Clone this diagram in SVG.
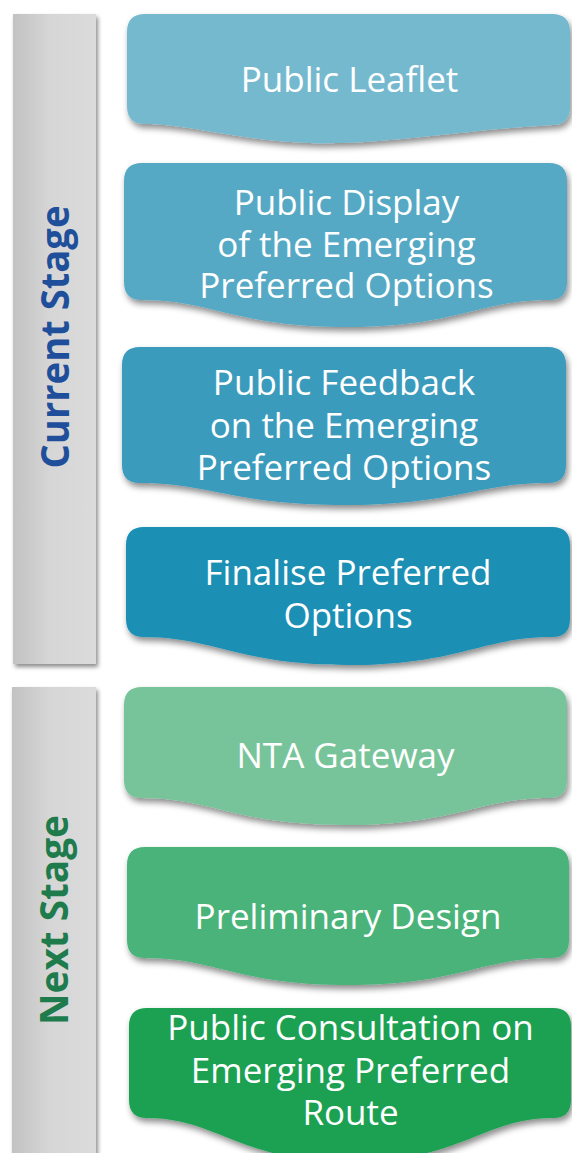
<svg xmlns="http://www.w3.org/2000/svg" width="572" height="1153" viewBox="0 0 572 1153">
<defs>
<linearGradient id="barGrad" x1="0" y1="0" x2="1" y2="0">
<stop offset="0" stop-color="#c2c2c2"/>
<stop offset="0.45" stop-color="#d6d6d6"/>
<stop offset="1" stop-color="#dbdbdb"/>
</linearGradient>
<filter id="shadow" x="-10%" y="-10%" width="125%" height="130%">
<feDropShadow dx="2" dy="4" stdDeviation="3" flood-color="#000" flood-opacity="0.45"/>
</filter>
<filter id="barShadow" x="-20%" y="-5%" width="140%" height="115%">
<feDropShadow dx="2" dy="3" stdDeviation="2" flood-color="#000" flood-opacity="0.45"/>
</filter>
</defs>
<style>
.bar{fill:url(#barGrad);filter:url(#barShadow);}
.stage{font-family:"Open Sans","Liberation Sans",sans-serif;font-weight:bold;font-size:40px;text-anchor:middle;}
.node{filter:url(#shadow);}
.lbl{font-family:"Open Sans","Liberation Sans",sans-serif;font-size:35px;fill:#ffffff;text-anchor:middle;}
</style>
<rect width="572" height="1153" fill="#ffffff"/>
<g id="stage-current">
<rect class="bar" x="13" y="14" width="83" height="650"/>
<text class="stage" fill="#1f4f9b" transform="translate(69,337) rotate(-90)" textLength="263" lengthAdjust="spacingAndGlyphs">Current Stage</text>
</g>
<g id="stage-next">
<rect class="bar" x="12" y="687" width="84" height="490"/>
<text class="stage" fill="#1e7b4c" transform="translate(68,920) rotate(-90)" textLength="210" lengthAdjust="spacingAndGlyphs">Next Stage</text>
</g>
<g id="connectors"></g>
<g id="node-leaflet">
<path class="node" fill="#75b9cf" d="M145,14 H552 Q570,14 570,32 V107 Q570,125 552,125 C460,130 390,145 310,143 C240,141 190,124 145,124 Q127,124 127,106 V32 Q127,14 145,14 Z"/>
<text class="lbl" x="349.5" y="92">Public Leaflet</text>
</g>
<g id="node-display">
<path class="node" fill="#57a9c5" d="M142,163 H549 Q567,163 567,181 V282 Q567,300 549,300 C479,300 456,327 346,327 C236,327 212,300 142,300 Q124,300 124,282 V181 Q124,163 142,163 Z"/>
<text class="lbl"><tspan x="346.5" y="215">Public Display</tspan><tspan x="346.5" y="256.5">of the Emerging</tspan><tspan x="346.5" y="298">Preferred Options</tspan></text>
</g>
<g id="node-feedback">
<path class="node" fill="#3a9bbd" d="M140,347 H548 Q566,347 566,365 V465 Q566,483 548,483 C478,483 454,505 344,505 C234,505 210,483 140,483 Q122,483 122,465 V365 Q122,347 140,347 Z"/>
<text class="lbl"><tspan x="344" y="395">Public Feedback</tspan><tspan x="344" y="437.5">on the Emerging</tspan><tspan x="344" y="480">Preferred Options</tspan></text>
</g>
<g id="node-finalise">
<path class="node" fill="#1a8fb5" d="M144,527 H552 Q570,527 570,545 V619 Q570,637 552,637 C482,637 458,665 348,665 C238,665 214,637 144,637 Q126,637 126,619 V545 Q126,527 144,527 Z"/>
<text class="lbl"><tspan x="348" y="585">Finalise Preferred</tspan><tspan x="348" y="628">Options</tspan></text>
</g>
<g id="node-nta">
<path class="node" fill="#78c49a" d="M142,687 H549 Q567,687 567,705 V780 Q567,798 549,798 C479,798 455,825 345,825 C235,825 212,798 142,798 Q124,798 124,780 V705 Q124,687 142,687 Z"/>
<text class="lbl" x="345.5" y="768">NTA Gateway</text>
</g>
<g id="node-preliminary">
<path class="node" fill="#4ab37a" d="M145,847 H551 Q569,847 569,865 V940 Q569,958 551,958 C481,958 458,985 348,985 C238,985 215,958 145,958 Q127,958 127,940 V865 Q127,847 145,847 Z"/>
<text class="lbl" x="348" y="929">Preliminary Design</text>
</g>
<g id="node-consultation">
<path class="node" fill="#1ba152" d="M147,1008 H553 Q571,1008 571,1026 V1100 Q571,1118 553,1118 C483,1118 460,1162 350,1162 C240,1162 217,1118 147,1118 Q129,1118 129,1100 V1026 Q129,1008 147,1008 Z"/>
<text class="lbl"><tspan x="350.5" y="1040">Public Consultation on</tspan><tspan x="350.5" y="1083">Emerging Preferred</tspan><tspan x="350.5" y="1125">Route</tspan></text>
</g>
</svg>
